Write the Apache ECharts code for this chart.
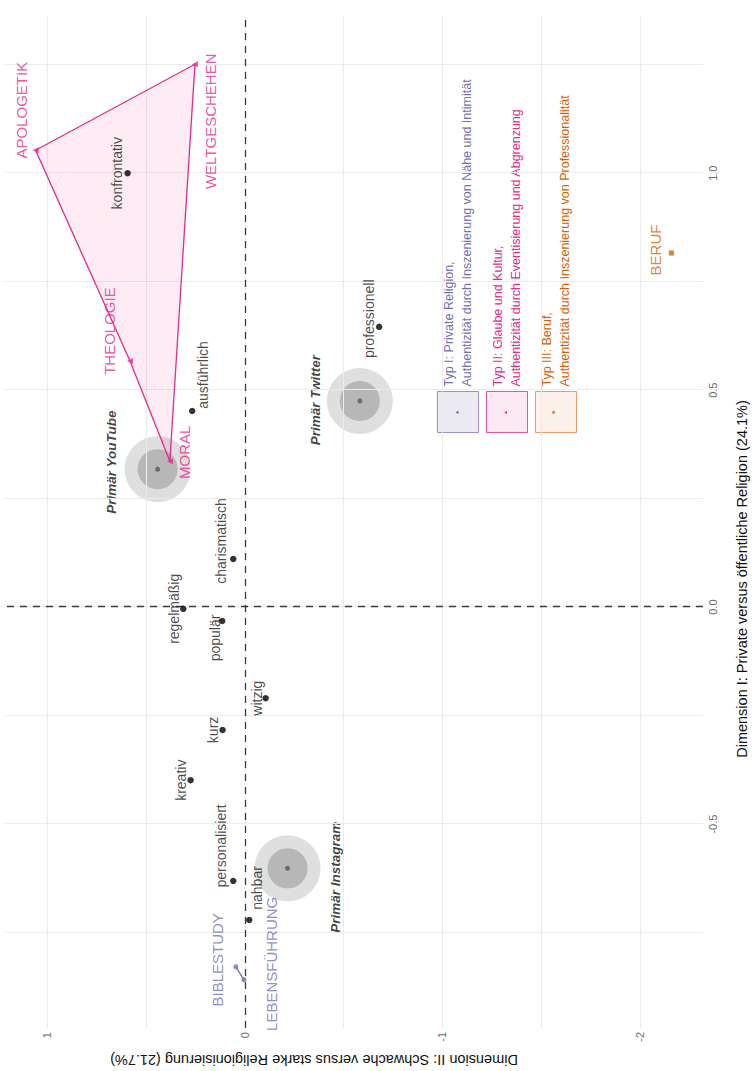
<!DOCTYPE html>
<html><head><meta charset="utf-8">
<script src="https://cdn.jsdelivr.net/npm/echarts@6/dist/echarts.min.js"></script>
<style>
html,body{margin:0;padding:0;background:#fff;overflow:hidden;width:755px;height:1071px;}
#chart{position:absolute;left:0;top:0;width:1071px;height:755px;transform-origin:0 0;transform:translate(0,1071px) rotate(-90deg);}
</style></head><body><div id="chart"></div>
<script>
// ---------- data ----------
const wordNames = ['konfrontativ','ausführlich','professionell','charismatisch','regelmäßig','populär','witzig','kurz','kreativ','personalisiert','nahbar'];
const wordDim1  = [1.000, 0.452, 0.646, 0.111, -0.004, -0.032, -0.210, -0.283, -0.399, -0.631, -0.721];
const wordDim2  = [0.594, 0.267, -0.680, 0.059, 0.312, 0.115, -0.105, 0.113, 0.275, 0.059, -0.022];

const platformNames = ['Primär YouTube','Primär Twitter','Primär Instagram'];
const platformDim1  = [0.318, 0.475, -0.602];
const platformDim2  = [0.442, -0.582, -0.216];

const type1Names = ['BIBLESTUDY','LEBENSFÜHRUNG'];
const type1Dim1  = [-0.829, -0.859];
const type1Dim2  = [0.046, 0.005];

const type2Names = ['APOLOGETIK','WELTGESCHEHEN','MORAL','THEOLOGIE'];
const type2Dim1  = [1.053, 1.251, 0.336, 0.567];
const type2Dim2  = [1.060, 0.253, 0.380, 0.582];

const type3Names = ['BERUF'];
const type3Dim1  = [0.816];
const type3Dim2  = [-2.160];

const typeKeys = ['Typ I','Typ II','Typ III'];
const typeLegendTexts = [
  'Typ I: Private Religion,\nAuthentizität durch Inszenierung von Nähe und Intimität',
  'Typ II: Glaube und Kultur,\nAuthentizität durch Eventisierung und Abgrenzung',
  'Typ III: Beruf,\nAuthentizität durch Inszenierung von Professionalität'
];

const dim1TickValues = [-0.5, 0, 0.5, 1.0];
const dim2TickValues = [-2, -1, 0, 1];
const dim1GridValues = [-0.75, -0.5, -0.25, 0, 0.25, 0.5, 0.75, 1.0, 1.25];
const dim2GridValues = [-2, -1.5, -1, -0.5, 0, 0.5, 1];

const dim1Title = 'Dimension I: Private versus öffentliche Religion (24.1%)';
const dim2Title = 'Dimension II: Schwache versus starke Religionisierung (21.7%)';

// ---------- styles (label offsets, colours) ----------
const labelOffsets = {
  'konfrontativ':[0,-11], 'ausführlich':[36,11], 'professionell':[8,-10], 'charismatisch':[18,-12],
  'regelmäßig':[0,-9], 'populär':[-17,-7], 'witzig':[0,-9], 'kurz':[0,-10], 'kreativ':[0,-10],
  'personalisiert':[35,-12], 'nahbar':[32,8],
  'Primär YouTube':[7,-46], 'Primär Twitter':[1,-44], 'Primär Instagram':[-9,48],
  'BIBLESTUDY':[7,-18], 'LEBENSFÜHRUNG':[16,28],
  'APOLOGETIK':[40,-14], 'WELTGESCHEHEN':[-57,16], 'MORAL':[9,15], 'THEOLOGIE':[30,-20],
  'BERUF':[3,-16]
};
const C1 = '#7570B3', C2 = '#E7298A', C3 = '#D95F02';
const FONT = '"Liberation Sans", Arial, Helvetica, sans-serif';

function items(names, d1, d2) {
  return names.map((n, i) => ({ name: n, value: [d1[i], d2[i]], label: { offset: labelOffsets[n] || [0, 0] } }));
}
function hull(d1, d2, stroke, fill) {
  return function (params, api) {
    if (params.dataIndex !== 0) return null;
    const pts = d1.map((v, i) => api.coord([v, d2[i]]));
    if (pts.length > 2) {
      return { type: 'polygon', shape: { points: pts }, style: { fill: fill, stroke: stroke, lineWidth: 1.3 } };
    }
    return { type: 'polyline', shape: { points: pts }, style: { fill: null, stroke: stroke, lineWidth: 1.3 } };
  };
}

const chart = echarts.init(document.getElementById('chart'), null, { renderer: 'svg' });
const option = {
  animation: false,
  textStyle: { fontFamily: FONT },
  grid: { left: 43, right: 17, top: 5, bottom: 52, containLabel: false, outerBoundsMode: 'none' },
  xAxis: {
    type: 'value', min: -0.97, max: 1.36,
    axisLine: { show: false },
    splitLine: { show: false },
    axisTick: { show: true, customValues: dim1TickValues, length: 3, lineStyle: { color: '#333', width: 1 } },
    axisLabel: { customValues: dim1TickValues, formatter: v => v.toFixed(1), color: '#6B6B6B', fontSize: 11, margin: 4 },
    name: dim1Title, nameLocation: 'middle', nameGap: 31,
    nameTextStyle: { color: '#111', fontSize: 14.5, padding: [0, 113, 0, 0] }
  },
  yAxis: {
    type: 'value', min: -2.32, max: 1.215,
    axisLine: { show: false },
    splitLine: { show: false },
    axisTick: { show: true, customValues: dim2TickValues, length: 3, lineStyle: { color: '#333', width: 1 } },
    axisLabel: { customValues: dim2TickValues, formatter: v => String(v), color: '#6B6B6B', fontSize: 11, margin: 4 },
    name: dim2Title, nameLocation: 'middle', nameGap: 23, nameRotate: 90,
    nameTextStyle: { color: '#111', fontSize: 14.5, padding: [0, 0, 0, 80] }
  },
  legend: [
    {
      orient: 'vertical', left: 638, top: 437, itemWidth: 41, itemHeight: 41, itemGap: 7, padding: 0,
      selectedMode: false,
      textStyle: { fontSize: 12.5, lineHeight: 18, fontFamily: FONT },
      formatter: name => typeLegendTexts[typeKeys.indexOf(name)],
      data: [
        { name: 'Typ I', icon: 'rect', itemStyle: { color: 'rgba(117,112,179,0.14)', borderColor: 'rgba(117,112,179,0.75)', borderWidth: 1 }, textStyle: { color: C1 } },
        { name: 'Typ II', icon: 'rect', itemStyle: { color: 'rgba(231,41,138,0.10)', borderColor: 'rgba(231,41,138,0.8)', borderWidth: 1 }, textStyle: { color: C2 } },
        { name: 'Typ III', icon: 'rect', itemStyle: { color: 'rgba(217,95,2,0.10)', borderColor: 'rgba(217,95,2,0.75)', borderWidth: 1 }, textStyle: { color: C3 } }
      ]
    },
    {
      orient: 'vertical', left: 638, top: 437, itemWidth: 41, itemHeight: 41, itemGap: 7, padding: 0,
      selectedMode: false,
      textStyle: { fontSize: 12.5, lineHeight: 18, fontFamily: FONT, color: 'rgba(0,0,0,0)' },
      formatter: name => typeLegendTexts[typeKeys.indexOf(name)],
      data: [
        { name: 'Typ I', icon: 'path://M0,0h0.01v0.01h-0.01z M41,41h0.01v0.01h-0.01z M19.4,19.4h2.4v2.4h-2.4z', itemStyle: { color: C1, borderWidth: 0 }, textStyle: { color: 'rgba(0,0,0,0)' } },
        { name: 'Typ II', icon: 'path://M0,0h0.01v0.01h-0.01z M41,41h0.01v0.01h-0.01z M20.6,19.2L22.2,22L19,22z', itemStyle: { color: C2, borderWidth: 0 }, textStyle: { color: 'rgba(0,0,0,0)' } },
        { name: 'Typ III', icon: 'path://M0,0h0.01v0.01h-0.01z M41,41h0.01v0.01h-0.01z M19.3,19.3h2.6v2.6h-2.6z', itemStyle: { color: C3, borderWidth: 0 }, textStyle: { color: 'rgba(0,0,0,0)' } }
      ]
    }
  ],
  series: [
    { // grid lines
      type: 'line', name: 'grid', data: [], silent: true, z: 0,
      markLine: {
        silent: true, symbol: ['none', 'none'], label: { show: false }, animation: false,
        lineStyle: { color: '#EBEBEB', width: 1, type: 'solid' },
        data: dim1GridValues.map(v => ({ xAxis: v })).concat(dim2GridValues.map(v => ({ yAxis: v })))
      }
    },
    { // dashed reference lines
      type: 'line', name: 'ref', data: [], silent: true, z: 1,
      markLine: {
        silent: true, symbol: ['none', 'none'], label: { show: false }, animation: false,
        lineStyle: { color: '#3A3A3A', width: 1.3, type: [7, 6] },
        data: [{ xAxis: 0 }, { yAxis: 0 }]
      }
    },
    { type: 'scatter', name: 'platform-outer', silent: true, z: 2, symbolSize: 66,
      itemStyle: { color: '#D7D7D7' }, data: platformNames.map((n, i) => [platformDim1[i], platformDim2[i]]) },
    { type: 'scatter', name: 'platform-inner', silent: true, z: 3, symbolSize: 40,
      itemStyle: { color: '#ADADAD' }, data: platformNames.map((n, i) => [platformDim1[i], platformDim2[i]]) },
    { type: 'scatter', name: 'platform', silent: true, z: 4, symbolSize: 5,
      itemStyle: { color: '#595959' },
      label: { show: true, position: 'inside', formatter: '{b}', color: '#111', fontSize: 13.5, fontWeight: 'bold', fontStyle: 'italic' },
      data: items(platformNames, platformDim1, platformDim2) },
    { type: 'custom', name: 'Typ I', silent: true, z: 5, renderItem: hull(type1Dim1, type1Dim2, C1, 'rgba(117,112,179,0.09)'),
      data: type1Dim1.map((v, i) => [v, type1Dim2[i]]) },
    { type: 'custom', name: 'Typ II', silent: true, z: 5, renderItem: hull(type2Dim1, type2Dim2, C2, 'rgba(231,41,138,0.09)'),
      data: type2Dim1.map((v, i) => [v, type2Dim2[i]]) },
    { type: 'scatter', name: 'words', silent: true, z: 6, symbolSize: 6.5,
      itemStyle: { color: '#000' },
      label: { show: true, position: 'inside', formatter: '{b}', color: '#1A1A1A', fontSize: 14 },
      data: items(wordNames, wordDim1, wordDim2) },
    { type: 'scatter', name: 'Typ I', silent: true, z: 7, symbol: 'circle', symbolSize: 5,
      itemStyle: { color: C1 },
      label: { show: true, position: 'inside', formatter: '{b}', color: C1, fontSize: 15 },
      data: items(type1Names, type1Dim1, type1Dim2) },
    { type: 'scatter', name: 'Typ II', silent: true, z: 7, symbol: 'triangle', symbolSize: 6,
      itemStyle: { color: C2 },
      label: { show: true, position: 'inside', formatter: '{b}', color: C2, fontSize: 15 },
      data: items(type2Names, type2Dim1, type2Dim2) },
    { type: 'scatter', name: 'Typ III', silent: true, z: 7, symbol: 'rect', symbolSize: 5,
      itemStyle: { color: C3 },
      label: { show: true, position: 'inside', formatter: '{b}', color: C3, fontSize: 15 },
      data: items(type3Names, type3Dim1, type3Dim2) }
  ]
};
chart.setOption(option);
</script></body></html>
